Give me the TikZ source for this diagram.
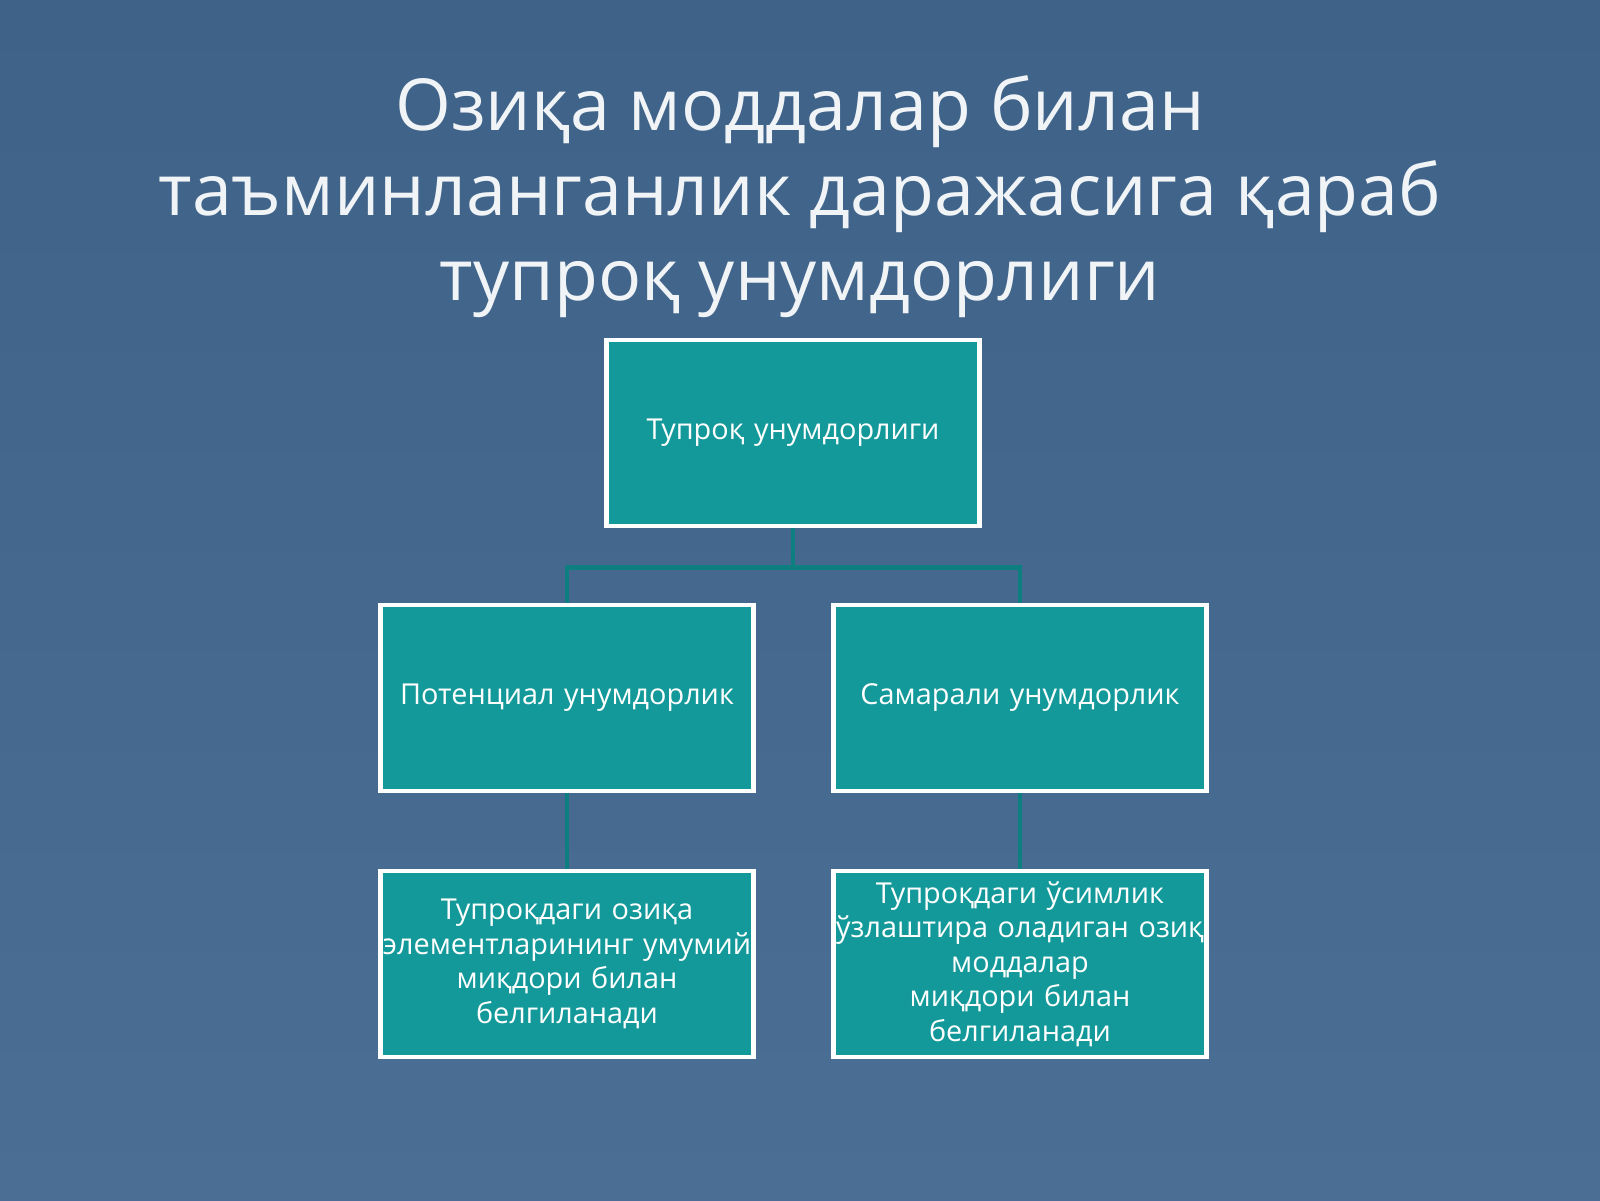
\documentclass[tikz,border=0pt]{standalone}
\usepackage{fontspec}
\setmainfont{Open Sans}
\usetikzlibrary{positioning,calc}
\definecolor{slide}{HTML}{4A6E94}
\definecolor{slidetop}{HTML}{3F6289}
\definecolor{boxteal}{HTML}{14999A}
\definecolor{linkteal}{HTML}{0E7F80}
\begin{document}
\begin{tikzpicture}[x=1cm,y=-1cm,
    box/.style={fill=boxteal, draw=white, line width=1.3pt, text=white,
      minimum width=3.73cm, minimum height=1.86cm, text width=3.7cm,
      align=center, inner sep=0pt, font=\fontsize{8.2pt}{9.8pt}\selectfont},
    link/.style={draw=linkteal, line width=1.4pt}]
  \shade[top color=slidetop, bottom color=slide] (0,0) rectangle (16,12);
  \useasboundingbox (0,0) rectangle (16,12);

  \node[text=white!92!slide, align=center, font=\fontsize{20.4pt}{24.2pt}\selectfont]
    (title) at (8,1.97) {Озиқа моддалар билан\\ таъминланганлик даражасига қараб\\ тупроқ унумдорлиги};

  \foreach \x/\y/\al/\lab in {%
    7.93/4.33/root/Тупроқ унумдорлиги,%
    5.67/6.98/potent/Потенциал унумдорлик,%
    10.20/6.98/samar/Самарали унумдорлик,%
    5.67/9.64/potdesc/{Тупроқдаги озиқа\\ элементларининг умумий\\ миқдори билан\\ белгиланади},%
    10.20/9.64/samdesc/{Тупроқдаги ўсимлик\\ ўзлаштира оладиган озиқ\\ моддалар\\ миқдори билан\\ белгиланади}%
  }{ \node[box] (\al) at (\x,\y) {\lab}; }

  \coordinate (fork) at ($(root.south)+(0,0.39)$);
  \draw[link] (root) -- (fork) -| (potent);
  \draw[link] (fork) -| (samar);
  \draw[link] (potent) -- (potdesc);
  \draw[link] (samar) -- (samdesc);
\end{tikzpicture}
\end{document}
